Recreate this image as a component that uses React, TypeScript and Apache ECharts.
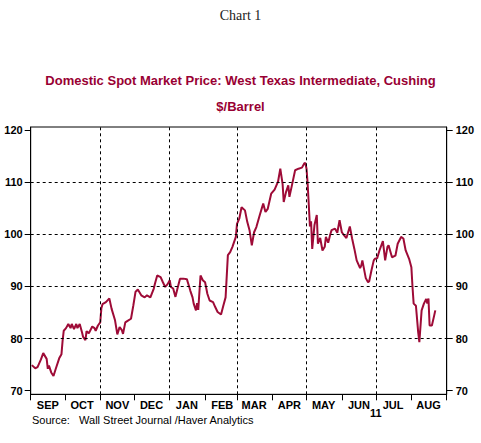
import React, { useEffect, useRef } from "react";
import * as echarts from "echarts";

const dates: string[] = [
  "2010-09-02","2010-09-05","2010-09-07","2010-09-10","2010-09-12","2010-09-15","2010-09-16","2010-09-17","2010-09-19","2010-09-21",
  "2010-09-23","2010-09-26","2010-09-28","2010-09-29","2010-09-30","2010-10-02","2010-10-04","2010-10-06","2010-10-07","2010-10-09",
  "2010-10-11","2010-10-12","2010-10-14","2010-10-16","2010-10-17","2010-10-19","2010-10-20","2010-10-22","2010-10-25","2010-10-27",
  "2010-10-28","2010-10-30","2010-11-01","2010-11-02","2010-11-03","2010-11-06","2010-11-09","2010-11-11","2010-11-14","2010-11-16",
  "2010-11-18","2010-11-20","2010-11-21","2010-11-23","2010-11-25","2010-11-28","2010-11-30","2010-12-02","2010-12-04","2010-12-07",
  "2010-12-10","2010-12-12","2010-12-15","2010-12-18","2010-12-19","2010-12-21","2010-12-24","2010-12-26","2010-12-28","2010-12-30",
  "2011-01-01","2011-01-02","2011-01-04","2011-01-06","2011-01-08","2011-01-10","2011-01-13","2011-01-16","2011-01-18","2011-01-19",
  "2011-01-21","2011-01-22","2011-01-24","2011-01-25","2011-01-26","2011-01-28","2011-01-30","2011-02-01","2011-02-03","2011-02-05",
  "2011-02-08","2011-02-10","2011-02-12","2011-02-15","2011-02-17","2011-02-19","2011-02-21","2011-02-23","2011-02-25","2011-02-28",
  "2011-03-01","2011-03-03","2011-03-05","2011-03-08","2011-03-10","2011-03-12","2011-03-14","2011-03-16","2011-03-18","2011-03-21",
  "2011-03-24","2011-03-26","2011-03-28","2011-03-31","2011-04-03","2011-04-06","2011-04-08","2011-04-10","2011-04-11","2011-04-13",
  "2011-04-15","2011-04-16","2011-04-18","2011-04-21","2011-04-24","2011-04-27","2011-04-29","2011-04-30","2011-05-01","2011-05-02",
  "2011-05-04","2011-05-05","2011-05-06","2011-05-08","2011-05-10","2011-05-11","2011-05-13","2011-05-15","2011-05-17","2011-05-18",
  "2011-05-20","2011-05-22","2011-05-23","2011-05-26","2011-05-28","2011-05-30","2011-06-01","2011-06-03","2011-06-05","2011-06-08",
  "2011-06-10","2011-06-12","2011-06-14","2011-06-17","2011-06-18","2011-06-19","2011-06-22","2011-06-24","2011-06-25","2011-06-27",
  "2011-06-29","2011-06-30","2011-07-02","2011-07-04","2011-07-07","2011-07-09","2011-07-11","2011-07-12","2011-07-15","2011-07-18",
  "2011-07-20","2011-07-23","2011-07-25","2011-07-27","2011-07-30","2011-08-01","2011-08-02","2011-08-03","2011-08-05","2011-08-07",
  "2011-08-08","2011-08-10","2011-08-12","2011-08-14","2011-08-15","2011-08-16","2011-08-17","2011-08-19","2011-08-21","2011-08-22",
];

const prices: number[] = [
  74.9,74.3,74.5,76.0,77.2,76.1,74.2,74.8,73.5,72.8,
  74.2,76.2,77.0,79.6,81.5,82.0,82.8,82.0,82.8,81.8,
  82.8,82.0,82.8,81.2,80.3,79.7,81.4,81.0,82.3,82.0,
  81.5,82.5,83.1,85.8,86.6,87.0,87.7,85.7,83.5,80.8,
  82.2,81.6,80.9,83.1,83.4,83.8,86.3,89.0,89.4,88.3,
  87.9,88.3,87.9,89.6,90.5,92.1,91.8,90.8,89.9,90.4,
  91.2,89.9,89.6,88.0,89.8,91.5,91.5,91.4,90.0,89.2,
  87.9,86.7,85.4,86.8,85.5,92.1,91.2,90.8,88.6,87.3,
  87.0,86.0,85.1,84.6,86.3,87.9,96.0,96.6,97.6,99.5,
  102.0,103.0,105.2,104.6,102.4,100.8,97.9,100.4,101.4,103.7,
  105.9,104.3,104.9,107.8,108.6,110.1,112.6,109.7,106.2,108.1,
  109.4,107.2,109.2,112.3,112.6,112.8,113.6,113.7,112.6,109.7,
  101.5,102.5,97.2,101.8,103.7,98.2,99.3,96.9,97.6,99.5,
  98.4,100.1,100.8,101.1,100.3,102.7,100.4,99.8,99.3,101.5,
  99.2,97.2,95.0,93.5,94.0,95.0,91.6,90.8,91.0,93.1,
  95.0,95.3,95.4,96.9,98.7,95.0,97.6,97.9,95.6,95.9,
  98.2,99.5,99.2,96.9,95.3,93.7,89.9,86.7,86.3,81.2,
  79.3,85.4,86.7,87.6,86.7,87.7,82.5,82.5,84.4,85.4,
];

const monthNames: string[] = ["JAN","FEB","MAR","APR","MAY","JUN","JUL","AUG","SEP","OCT","NOV","DEC"];
const yTicks: number[] = [70, 80, 90, 100, 110, 120];
const gridDates: string[] = ["2010-11-01", "2011-01-01", "2011-03-01", "2011-05-01", "2011-07-01"];
const yearLabel = "11";

const TITLE_COLOR = "#990033";
const LINE_COLOR = "#9E0B37";

function ts(y: number, m: number, d: number) {
  return new Date(y, m, d).getTime();
}
function parse(s: string) {
  const [y, m, d] = s.split("-").map(Number);
  return ts(y, m - 1, d);
}

export default function App() {
  const ref = useRef<HTMLDivElement>(null);
  useEffect(() => {
    if (!ref.current) return;
    const chart = echarts.init(ref.current, null, { renderer: "svg" });
    const monthStarts: number[] = [];
    const monthMids: number[] = [];
    for (let i = 0; i <= 12; i++) {
      monthStarts.push(ts(2010, 8 + i, 1));
      if (i < 12) monthMids.push(ts(2010, 8 + i, 16));
    }
    const data = dates.map((d, i) => [parse(d), prices[i]]);
    const font = "Liberation Sans, Arial, sans-serif";
    const yLabel = { customValues: yTicks, color: "#000", fontFamily: font, fontWeight: "bold", fontSize: 11 };
    const yAxisCommon = {
      type: "value",
      min: 69.3,
      max: 120.6,
      axisLine: { show: true, lineStyle: { color: "#000", width: 1 } },
      axisTick: { show: true, length: 6, customValues: yTicks, lineStyle: { color: "#000" } },
      splitLine: { show: false },
    };
    chart.setOption({
      animation: false,
      backgroundColor: "#fff",
      title: [
        {
          text: "Chart 1",
          left: "center",
          top: 8,
          padding: 0,
          textStyle: { fontFamily: "Liberation Serif, Times New Roman, serif", fontWeight: "normal", fontSize: 14, color: "#222" },
        },
        {
          text: "Domestic Spot Market Price: West Texas Intermediate, Cushing",
          left: "center",
          top: 74,
          padding: 0,
          textStyle: { fontFamily: font, fontWeight: "bold", fontSize: 13, color: TITLE_COLOR },
        },
        {
          text: "$/Barrel",
          left: "center",
          top: 100,
          padding: 0,
          textStyle: { fontFamily: font, fontWeight: "bold", fontSize: 13, color: TITLE_COLOR },
        },
      ],
      grid: {
        left: 30.7,
        right: 34.3,
        top: 127,
        bottom: 48.7,
        show: true,
        borderColor: "#000",
        borderWidth: 1,
        containLabel: false,
      },
      xAxis: {
        type: "value",
        min: ts(2010, 8, 1),
        max: ts(2011, 8, 1),
        axisLine: { show: true, lineStyle: { color: "#000", width: 1 } },
        axisTick: { show: true, length: 6, customValues: monthStarts, lineStyle: { color: "#000" } },
        axisLabel: {
          customValues: monthMids,
          formatter: (v: number) => monthNames[new Date(v).getMonth()],
          color: "#000",
          fontFamily: font,
          fontWeight: "bold",
          fontSize: 11,
          margin: 5,
        },
        splitLine: { show: false },
      },
      yAxis: [
        { ...yAxisCommon, position: "left", axisLabel: { ...yLabel, margin: 8 } },
        { ...yAxisCommon, position: "right", axisLabel: { ...yLabel, margin: 9 } },
      ],
      graphic: [
        {
          type: "text",
          left: 32,
          top: 414,
          style: {
            text: "Source:   Wall Street Journal /Haver Analytics",
            fill: "#000",
            font: "11px Liberation Sans, Arial, sans-serif",
          },
        },
        {
          type: "text",
          left: 370,
          top: 407,
          style: {
            text: yearLabel,
            fill: "#000",
            font: "bold 11px Liberation Sans, Arial, sans-serif",
          },
        },
      ],
      series: [
        {
          type: "line",
          data: [],
          z: 1,
          silent: true,
          markLine: {
            silent: true,
            symbol: "none",
            label: { show: false },
            lineStyle: { color: "#000", type: [3, 3], width: 1 },
            data: [
              ...yTicks.filter((v) => v > 70 && v < 120).map((v) => ({ yAxis: v })),
              ...gridDates.map((d) => ({ xAxis: parse(d) })),
            ],
          },
        },
        {
          type: "line",
          data,
          z: 3,
          showSymbol: false,
          symbol: "none",
          lineStyle: { color: LINE_COLOR, width: 2 },
          itemStyle: { color: LINE_COLOR },
        },
      ],
    });
    return () => chart.dispose();
  }, []);
  return <div ref={ref} style={{ position: "absolute", left: 0, top: 0, width: 481, height: 443 }} />;
}
